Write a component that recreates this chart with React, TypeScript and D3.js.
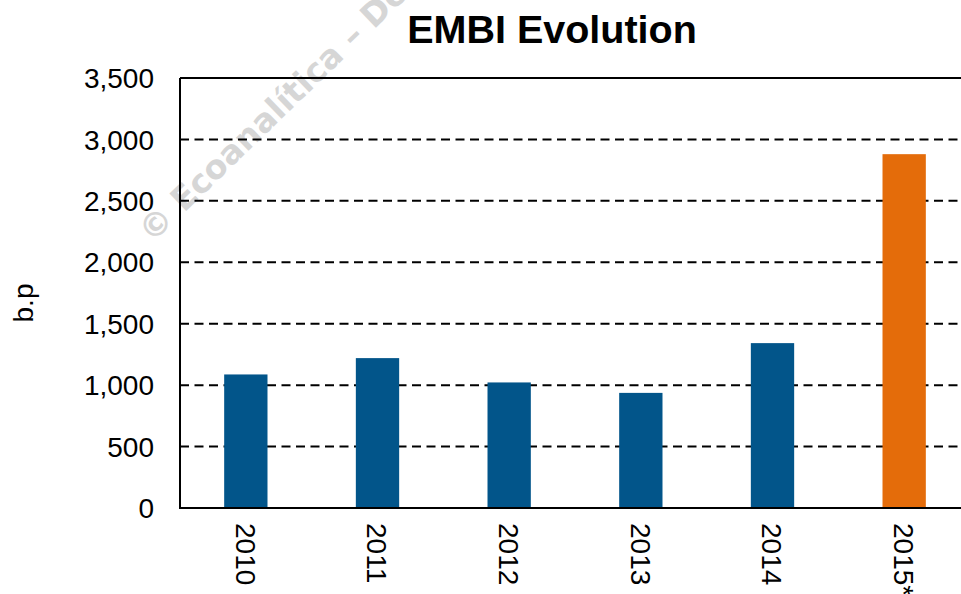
import React, { useEffect, useRef } from "react";
import * as d3 from "d3";

// EMBI values in basis points
const years = ["2010", "2011", "2012", "2013", "2014", "2015*"];
const embi = [1087, 1220, 1022, 937, 1342, 2880];
const yTicks = [0, 500, 1000, 1500, 2000, 2500, 3000, 3500];

const W = 961;
const H = 594;
const margin = { top: 78, right: -9, bottom: 86, left: 180 };

const App = () => {
  const ref = useRef<SVGSVGElement>(null);

  useEffect(() => {
    const svg = d3.select(ref.current);
    svg.selectAll("*").remove();

    const x = d3
      .scaleBand()
      .domain(years)
      .range([margin.left, W - margin.right])
      .paddingInner(0.671)
      .paddingOuter(0.3355);

    const y = d3
      .scaleLinear()
      .domain([0, 3500])
      .range([H - margin.bottom, margin.top]);

    // watermark
    svg
      .append("text")
      .attr("transform", "translate(152,244) rotate(-44)")
      .attr("font-family", "DejaVu Sans")
      .attr("font-weight", "bold")
      .attr("font-size", 33)
      .attr("fill", "#d6d6d6")
      .text("© Ecoanalítica – De");

    // dashed grid
    svg
      .append("g")
      .selectAll("line")
      .data(yTicks.filter((t) => t > 0 && t < 3500))
      .join("line")
      .attr("x1", margin.left)
      .attr("x2", W)
      .attr("y1", (d) => y(d))
      .attr("y2", (d) => y(d))
      .attr("stroke", "#000")
      .attr("stroke-width", 2)
      .attr("stroke-dasharray", "9,5.5");

    // bars
    svg
      .append("g")
      .selectAll("rect")
      .data(embi)
      .join("rect")
      .attr("x", (d, i) => x(years[i])!)
      .attr("y", (d) => y(d))
      .attr("width", x.bandwidth())
      .attr("height", (d) => y(0) - y(d))
      .attr("fill", (d, i) => (i === years.length - 1 ? "#E46C0A" : "#02558A"));

    // frame: top, left, bottom
    const g = svg.append("g").attr("stroke", "#000").attr("stroke-width", 2);
    g.append("line")
      .attr("x1", margin.left).attr("x2", W)
      .attr("y1", y(3500)).attr("y2", y(3500));
    g.append("line")
      .attr("x1", margin.left).attr("x2", W)
      .attr("y1", y(0)).attr("y2", y(0));
    g.append("line")
      .attr("x1", margin.left).attr("x2", margin.left)
      .attr("y1", y(3500)).attr("y2", y(0) + 1);

    // y tick labels
    svg
      .append("g")
      .selectAll("text")
      .data(yTicks)
      .join("text")
      .attr("x", 154)
      .attr("y", (d) => y(d))
      .attr("dy", "0.36em")
      .attr("text-anchor", "end")
      .attr("font-family", "Liberation Sans, Arial")
      .attr("font-size", 28)
      .text((d) => d3.format(",")(d));

    // x labels, vertical
    svg
      .append("g")
      .selectAll("text")
      .data(years)
      .join("text")
      .attr("transform", (d) => `translate(${x(d)! + x.bandwidth() / 2},523) rotate(90)`)
      .attr("dy", "0.36em")
      .attr("font-family", "Liberation Sans, Arial")
      .attr("font-size", 28)
      .text((d) => d);

    // axis title
    svg
      .append("text")
      .attr("transform", "translate(23,303) rotate(-90)")
      .attr("dy", "0.36em")
      .attr("text-anchor", "middle")
      .attr("font-family", "Liberation Sans, Arial")
      .attr("font-size", 28)
      .text("b.p");

    // title
    svg
      .append("text")
      .attr("x", 552)
      .attr("y", 43)
      .attr("text-anchor", "middle")
      .attr("font-family", "Liberation Sans, Arial")
      .attr("font-weight", "bold")
      .attr("font-size", 39.5)
      .text("EMBI Evolution");
  }, []);

  return (
    <div style={{ position: "absolute", left: 0, top: 0 }}>
      <svg ref={ref} width={W} height={H} style={{ display: "block", background: "#fff" }}></svg>
    </div>
  );
};

export default App;
